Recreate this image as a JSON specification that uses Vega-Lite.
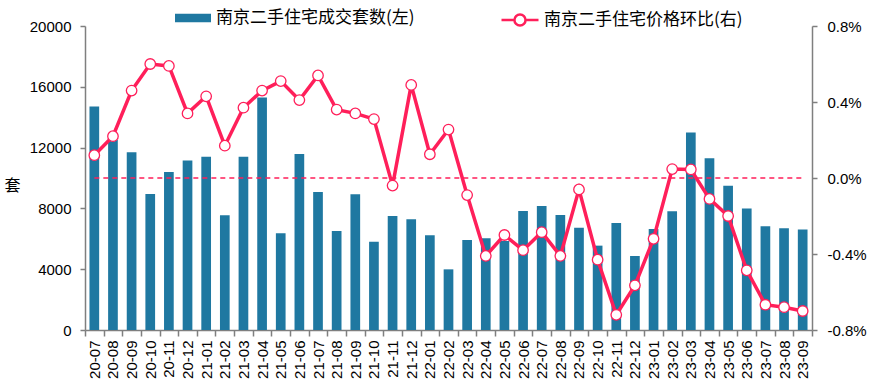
{
  "$schema": "https://vega.github.io/schema/vega-lite/v6.json",
  "width": 727,
  "height": 304,
  "autosize": {"type": "none"},
  "padding": {"left": 85, "top": 26, "right": 69, "bottom": 62},
  "background": "white",
  "config": {
    "view": {"stroke": null},
    "font": "Liberation Sans",
    "axis": {
      "domainColor": "#7f7f7f",
      "domainWidth": 1.5,
      "tickColor": "#7f7f7f",
      "tickWidth": 1.5,
      "tickSize": 5,
      "labelColor": "#000000",
      "labelFont": "Liberation Sans",
      "labelFontSize": 15,
      "grid": false
    }
  },
  "data": {
    "values": [
      {"month": "20-07", "volume": 14700, "price": 0.0012},
      {"month": "20-08", "volume": 12500, "price": 0.0022},
      {"month": "20-09", "volume": 11700, "price": 0.0046},
      {"month": "20-10", "volume": 8950, "price": 0.0060},
      {"month": "20-11", "volume": 10400, "price": 0.0059},
      {"month": "20-12", "volume": 11150, "price": 0.0034},
      {"month": "21-01", "volume": 11400, "price": 0.0043},
      {"month": "21-02", "volume": 7550, "price": 0.0017},
      {"month": "21-03", "volume": 11400, "price": 0.0037},
      {"month": "21-04", "volume": 15300, "price": 0.0046},
      {"month": "21-05", "volume": 6360, "price": 0.0051},
      {"month": "21-06", "volume": 11580, "price": 0.0041},
      {"month": "21-07", "volume": 9080, "price": 0.0054},
      {"month": "21-08", "volume": 6510, "price": 0.0036},
      {"month": "21-09", "volume": 8930, "price": 0.0034},
      {"month": "21-10", "volume": 5810, "price": 0.0031},
      {"month": "21-11", "volume": 7500, "price": -0.0004},
      {"month": "21-12", "volume": 7280, "price": 0.0049},
      {"month": "22-01", "volume": 6230, "price": 0.00125},
      {"month": "22-02", "volume": 3990, "price": 0.00255},
      {"month": "22-03", "volume": 5920, "price": -0.0009},
      {"month": "22-04", "volume": 6030, "price": -0.0041},
      {"month": "22-05", "volume": 5860, "price": -0.0030},
      {"month": "22-06", "volume": 7830, "price": -0.0038},
      {"month": "22-07", "volume": 8160, "price": -0.00285},
      {"month": "22-08", "volume": 7570, "price": -0.0041},
      {"month": "22-09", "volume": 6730, "price": -0.0006},
      {"month": "22-10", "volume": 5550, "price": -0.0043},
      {"month": "22-11", "volume": 7040, "price": -0.0072},
      {"month": "22-12", "volume": 4870, "price": -0.00565},
      {"month": "23-01", "volume": 6640, "price": -0.0032},
      {"month": "23-02", "volume": 7810, "price": 0.00047},
      {"month": "23-03", "volume": 13000, "price": 0.00045},
      {"month": "23-04", "volume": 11300, "price": -0.0011},
      {"month": "23-05", "volume": 9490, "price": -0.0020},
      {"month": "23-06", "volume": 8000, "price": -0.00486},
      {"month": "23-07", "volume": 6820, "price": -0.00667},
      {"month": "23-08", "volume": 6690, "price": -0.0068},
      {"month": "23-09", "volume": 6620, "price": -0.0070}
    ]
  },
  "encoding": {
    "x": {
      "field": "month",
      "type": "ordinal",
      "sort": null,
      "scale": {"paddingInner": 0, "paddingOuter": 0},
      "axis": {
        "title": null,
        "labelAngle": -90,
        "labelAlign": "right",
        "labelBaseline": "middle",
        "labelPadding": 4,
        "tickSize": 6,
        "tickBand": "extent",
        "labelOverlap": false
      }
    }
  },
  "layer": [
    {
      "mark": {"type": "bar", "width": {"band": 0.52}},
      "encoding": {
        "y": {
          "field": "volume",
          "type": "quantitative",
          "scale": {"domain": [0, 20000], "nice": false, "zero": true},
          "axis": {
            "orient": "left",
            "values": [0, 4000, 8000, 12000, 16000, 20000],
            "format": "d",
            "labelPadding": 9,
            "title": "套",
            "titleAngle": 0,
            "titleAlign": "center",
            "titleBaseline": "middle",
            "titleX": -73,
            "titleY": 159,
            "titleFontSize": 16,
            "titleFontWeight": "normal",
            "titleColor": "#000000",
            "titleFont": "Noto Sans CJK SC"
          }
        },
        "color": {
          "datum": "南京二手住宅成交套数(左)",
          "scale": {"range": ["#1F78A1"]},
          "legend": {
            "orient": "none",
            "legendX": 90,
            "legendY": -26,
            "title": null,
            "labelFontSize": 17,
            "labelColor": "#000000",
            "labelFont": "Noto Sans CJK SC",
            "labelOffset": 5,
            "labelLimit": 400,
            "symbolType": "M-1,-0.23H1V0.23H-1Z",
            "symbolSize": 1296,
            "symbolStrokeWidth": 0
          }
        }
      }
    },
    {
      "mark": {"type": "line", "color": "#FF1F5A", "strokeDash": [5, 4], "strokeWidth": 1.3},
      "encoding": {
        "y": {
          "datum": 0,
          "type": "quantitative",
          "scale": {"domain": [-0.008, 0.008], "nice": false},
          "axis": null
        }
      }
    },
    {
      "mark": {
        "type": "line",
        "strokeWidth": 3.5,
        "point": {"filled": true, "fill": "white", "stroke": "#FF1F5A", "strokeWidth": 1.3, "size": 110}
      },
      "encoding": {
        "y": {
          "field": "price",
          "type": "quantitative",
          "scale": {"domain": [-0.008, 0.008], "nice": false},
          "axis": {
            "orient": "right",
            "values": [-0.008, -0.004, 0, 0.004, 0.008],
            "labelExpr": "replace(format(datum.value, '.1%'), '\u2212', '-')",
            "labelPadding": 10,
            "title": null
          }
        },
        "stroke": {
          "datum": "南京二手住宅价格环比(右)",
          "scale": {"range": ["#FF1F5A"]},
          "legend": {
            "orient": "none",
            "legendX": 415,
            "legendY": -26,
            "title": null,
            "labelFontSize": 17,
            "labelColor": "#000000",
            "labelFont": "Noto Sans CJK SC",
            "labelOffset": 4,
            "labelLimit": 400,
            "symbolType": "M-1,0H-0.3M0.3,0H1M-0.3,0A0.3,0.3 0 1,1 0.3,0A0.3,0.3 0 1,1 -0.3,0Z",
            "symbolSize": 1369,
            "symbolStrokeWidth": 2.5,
            "symbolFillColor": "white"
          }
        }
      }
    }
  ],
  "resolve": {"scale": {"y": "independent"}}
}
